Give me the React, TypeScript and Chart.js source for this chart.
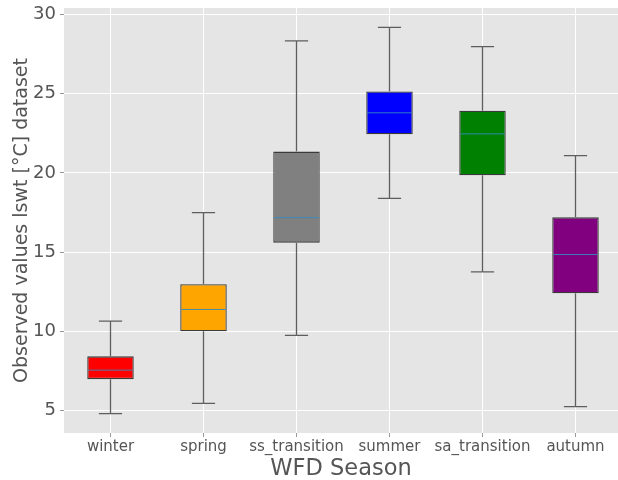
import React, { useEffect, useRef } from "react";
import { Chart, registerables } from "chart.js";

Chart.register(...registerables);

const categories = ["winter", "spring", "ss_transition", "summer", "sa_transition", "autumn"];
const whiskerLow = [4.8, 5.45, 9.75, 18.4, 13.75, 5.25];
const q1 = [6.98, 10.0, 15.6, 22.45, 19.85, 12.4];
const medians = [7.55, 11.38, 17.18, 23.8, 22.47, 14.85];
const q3 = [8.42, 12.97, 21.35, 25.15, 23.93, 17.2];
const whiskerHigh = [10.65, 17.5, 28.35, 29.2, 27.98, 21.1];
const boxColors = ["red", "orange", "grey", "blue", "green", "purple"];
const yTicks = [5, 10, 15, 20, 25, 30];

const FONT = "'DejaVu Sans', sans-serif";
const TEXT = "#555555";

const bgPlugin = {
  id: "plotBg",
  beforeDraw(chart: any) {
    const { ctx, chartArea } = chart;
    ctx.save();
    ctx.fillStyle = "#E5E5E5";
    ctx.fillRect(chartArea.left, chartArea.top, chartArea.right - chartArea.left, chartArea.bottom - chartArea.top);
    ctx.restore();
  },
};

const boxPlugin = {
  id: "boxParts",
  afterDatasetsDraw(chart: any) {
    const { ctx } = chart;
    const xs = chart.scales.x;
    const ys = chart.scales.y;
    ctx.save();
    categories.forEach((_, i) => {
      const pos = i + 1;
      const cx = xs.getPixelForValue(pos);
      const capL = xs.getPixelForValue(pos - 0.125);
      const capR = xs.getPixelForValue(pos + 0.125);
      const boxL = xs.getPixelForValue(pos - 0.25);
      const boxR = xs.getPixelForValue(pos + 0.25);
      ctx.strokeStyle = "#5e5e5e";
      ctx.lineWidth = 1.3;
      ctx.beginPath();
      ctx.moveTo(cx, ys.getPixelForValue(q3[i]));
      ctx.lineTo(cx, ys.getPixelForValue(whiskerHigh[i]));
      ctx.moveTo(cx, ys.getPixelForValue(q1[i]));
      ctx.lineTo(cx, ys.getPixelForValue(whiskerLow[i]));
      ctx.moveTo(capL, ys.getPixelForValue(whiskerHigh[i]));
      ctx.lineTo(capR, ys.getPixelForValue(whiskerHigh[i]));
      ctx.moveTo(capL, ys.getPixelForValue(whiskerLow[i]));
      ctx.lineTo(capR, ys.getPixelForValue(whiskerLow[i]));
      ctx.stroke();
      ctx.strokeStyle = "#348ABD";
      ctx.lineWidth = 0.9;
      ctx.beginPath();
      ctx.moveTo(boxL + 1, ys.getPixelForValue(medians[i]));
      ctx.lineTo(boxR - 1, ys.getPixelForValue(medians[i]));
      ctx.stroke();
    });
    ctx.restore();
  },
};

export default function App() {
  const ref = useRef<HTMLCanvasElement>(null);
  useEffect(() => {
    document.body.style.margin = "0";
    const chart = new Chart(ref.current as HTMLCanvasElement, {
      type: "bar",
      data: {
        datasets: [
          {
            data: categories.map((_, i) => ({ x: i + 1, y: [q1[i], q3[i]] })) as any,
            backgroundColor: boxColors,
            borderColor: "#3a3a3a",
            borderWidth: 1.3,
            borderSkipped: false,
            barPercentage: 0.5,
            categoryPercentage: 1,
          },
        ],
      },
      options: {
        animation: false,
        responsive: false,
        layout: { padding: { top: 8, right: 0, left: 0, bottom: 0 } },
        plugins: { legend: { display: false }, tooltip: { enabled: false } },
        scales: {
          x: {
            type: "linear",
            offset: false,
            min: 0.5,
            max: 6.457,
            afterBuildTicks: (s: any) => {
              s.ticks = categories.map((_, i) => ({ value: i + 1 }));
            },
            afterFit: (s: any) => {
              s.height = 47;
              s.paddingLeft = 0;
              s.paddingRight = 0;
            },
            grid: { offset: false, color: "#FFFFFF", lineWidth: 1, tickColor: "#999", tickLength: 4 },
            border: { display: false },
            ticks: {
              color: TEXT,
              font: { family: FONT, size: 15 },
              padding: 1,
              maxRotation: 0,
              autoSkip: false,
              callback: (v: any) => categories[Math.round(v) - 1] ?? "",
            },
            title: {
              display: true,
              text: "WFD Season",
              color: TEXT,
              font: { family: FONT, size: 22.5, lineHeight: 1.0 },
              padding: { top: 0, bottom: 0 },
            },
          },
          y: {
            type: "linear",
            min: 3.58,
            max: 30.42,
            afterBuildTicks: (s: any) => {
              s.ticks = yTicks.map((v) => ({ value: v }));
            },
            afterFit: (s: any) => {
              s.width = 64;
              s.paddingTop = 0;
              s.paddingBottom = 0;
            },
            grid: { color: "#FFFFFF", lineWidth: 1, tickColor: "#999", tickLength: 4 },
            border: { display: false },
            ticks: {
              color: TEXT,
              font: { family: FONT, size: 18 },
              padding: 4,
            },
            title: {
              display: true,
              text: "Observed values lswt [°C] dataset",
              color: TEXT,
              font: { family: FONT, size: 19, lineHeight: 1.0 },
              padding: { top: 13, bottom: 0 },
            },
          },
        },
      },
      plugins: [bgPlugin, boxPlugin],
    });
    return () => chart.destroy();
  }, []);
  return <canvas ref={ref} width={618} height={480} style={{ display: "block", width: 618, height: 480 }} />;
}
